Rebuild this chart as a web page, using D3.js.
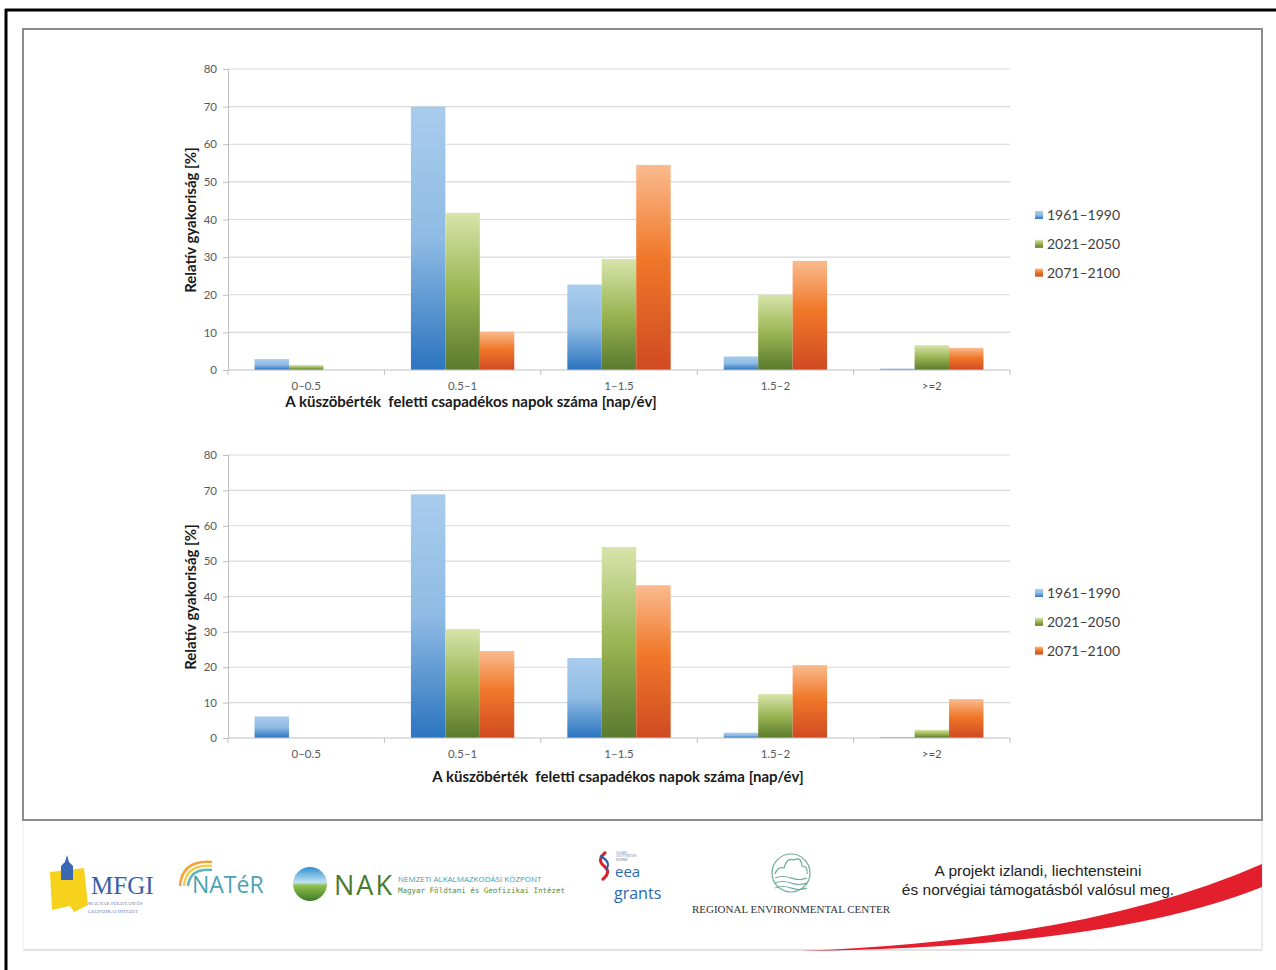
<!DOCTYPE html>
<html>
<head>
<meta charset="utf-8">
<script src="https://cdn.jsdelivr.net/npm/d3@7"></script>
<style>
  body { margin: 0; background: #fff; }
  svg { display: block; }
</style>
</head>
<body>
<div id="chart"></div>
<script>
// categories and series
const categories = ["0–0.5", "0.5–1", "1–1.5", "1.5–2", ">=2"];
const seriesNames = ["1961–1990", "2021–2050", "2071–2100"];
const yTicks = [0, 10, 20, 30, 40, 50, 60, 70, 80];

// top chart values [%], one array per period
const top1961 = [2.9, 70, 22.7, 3.6, 0.4];
const top2021 = [1.3, 41.8, 29.5, 20, 6.6];
const top2071 = [0, 10.2, 54.5, 29, 5.9];

// bottom chart values [%]
const bot1961 = [6.1, 68.9, 22.6, 1.5, 0.3];
const bot2021 = [0, 30.8, 54, 12.4, 2.3];
const bot2071 = [0, 24.6, 43.2, 20.6, 11];

const xTitle = "A küszöbérték  feletti csapadékos napok száma [nap/év]";
const yTitle = "Relatív gyakoriság [%]";

const W = 1276, H = 970;
const svg = d3.select("#chart").append("svg")
    .attr("width", W)
    .attr("height", H);

// gradients for the bars
const defs = svg.append("defs");
const gradStops = [
    [["0", "#a9cced"], ["0.5", "#8fbbe4"], ["1", "#2b74bf"]],
    [["0", "#d8e4ab"], ["0.5", "#9ab553"], ["1", "#5a7a2e"]],
    [["0", "#fabb8e"], ["0.45", "#f0782a"], ["1", "#d04a22"]]
];
gradStops.forEach((stops, i) => {
    const lg = defs.append("linearGradient")
        .attr("id", "grad" + i)
        .attr("x1", 0).attr("y1", 0).attr("x2", 0).attr("y2", 1);
    stops.forEach(s => lg.append("stop").attr("offset", s[0]).attr("stop-color", s[1]));
});
const nakGrad = defs.append("linearGradient")
    .attr("id", "nakGrad").attr("x1", 0).attr("y1", 0).attr("x2", 0).attr("y2", 1);
nakGrad.append("stop").attr("offset", "0").attr("stop-color", "#2f8fcf");
nakGrad.append("stop").attr("offset", "0.45").attr("stop-color", "#bfe3f2");
nakGrad.append("stop").attr("offset", "0.55").attr("stop-color", "#8fbf4a");
nakGrad.append("stop").attr("offset", "1").attr("stop-color", "#3f7a2a");

// page frames
svg.append("line")
    .attr("x1", 5).attr("x2", W).attr("y1", 10).attr("y2", 10)
    .attr("stroke", "#000").attr("stroke-width", 3);
svg.append("line")
    .attr("x1", 6).attr("x2", 6).attr("y1", 9).attr("y2", H)
    .attr("stroke", "#000").attr("stroke-width", 3);
svg.append("rect")
    .attr("x", 23).attr("y", 29).attr("width", 1239).attr("height", 791)
    .attr("fill", "none").attr("stroke", "#8c8c8c").attr("stroke-width", 2);

const font = "Lato, 'Noto Sans', sans-serif";

function drawChart(values, box) {
    const g = svg.append("g");
    const x = d3.scaleBand()
        .domain(categories)
        .range([box.left, box.right])
        .paddingInner(0).paddingOuter(0);
    const xs = d3.scaleBand()
        .domain(seriesNames)
        .range([0, x.bandwidth()])
        .paddingInner(0).paddingOuter(0.77);
    const y = d3.scaleLinear()
        .domain([0, 80])
        .range([box.bottom, box.top]);

    // grid lines
    g.append("g").selectAll("line")
        .data(yTicks.slice(1))
        .enter().append("line")
        .attr("x1", box.left).attr("x2", box.right)
        .attr("y1", d => y(d)).attr("y2", d => y(d))
        .attr("stroke", "#d9d9d9").attr("stroke-width", 1.2);

    // y axis
    const axisY = d3.axisLeft(y).tickValues(yTicks).tickSize(5).tickPadding(6);
    const ay = g.append("g")
        .attr("transform", `translate(${box.left},0)`)
        .call(axisY);
    ay.select(".domain").attr("stroke", "#bfbfbf");
    ay.selectAll(".tick line").attr("stroke", "#bfbfbf");
    ay.selectAll(".tick text")
        .attr("fill", "#595959").attr("font-size", 11.5).attr("font-family", font);

    // bars
    const series = seriesNames.map((name, i) => ({ name: name, idx: i, vals: values[i] }));
    g.append("g").selectAll("g")
        .data(series)
        .enter().append("g")
        .attr("fill", d => `url(#grad${d.idx})`)
        .selectAll("rect")
        .data(d => d.vals.map((v, j) => ({ s: d.name, c: categories[j], v: v })))
        .enter().append("rect")
        .filter(d => d.v > 0)
        .attr("x", d => x(d.c) + xs(d.s))
        .attr("width", xs.bandwidth())
        .attr("y", d => y(d.v))
        .attr("height", d => y(0) - y(d.v));

    // x axis
    g.append("line")
        .attr("x1", box.left).attr("x2", box.right)
        .attr("y1", y(0)).attr("y2", y(0))
        .attr("stroke", "#bfbfbf").attr("stroke-width", 1.2);
    const bounds = categories.map(c => x(c)).concat([box.right]);
    g.append("g").selectAll("line")
        .data(bounds)
        .enter().append("line")
        .attr("x1", d => d).attr("x2", d => d)
        .attr("y1", y(0)).attr("y2", y(0) + 5)
        .attr("stroke", "#bfbfbf");
    g.append("g").selectAll("text")
        .data(categories)
        .enter().append("text")
        .attr("x", d => x(d) + x.bandwidth() / 2)
        .attr("y", y(0) + 20)
        .attr("text-anchor", "middle")
        .attr("font-size", 11.5)
        .attr("font-family", font)
        .attr("fill", "#595959")
        .text(d => d);

    // titles
    g.append("text")
        .attr("x", box.xTitleX)
        .attr("y", box.xTitleY)
        .attr("text-anchor", "middle")
        .attr("font-size", 15)
        .attr("font-weight", "bold")
        .attr("font-family", font)
        .attr("fill", "#1a1a1a")
        .style("white-space", "pre")
        .text(xTitle);
    g.append("text")
        .attr("transform", `translate(196, ${box.yTitleY}) rotate(-90)`)
        .attr("text-anchor", "middle")
        .attr("font-size", 15)
        .attr("font-weight", "bold")
        .attr("font-family", font)
        .attr("fill", "#1a1a1a")
        .text(yTitle);

    // legend
    const leg = g.append("g").selectAll("g")
        .data(seriesNames)
        .enter().append("g")
        .attr("transform", (d, i) => `translate(1035, ${box.legendY + i * 28.8})`);
    leg.append("rect")
        .attr("x", 0).attr("y", -4).attr("width", 8).attr("height", 8)
        .attr("fill", (d, i) => `url(#grad${i})`);
    leg.append("text")
        .attr("x", 12).attr("y", 5)
        .attr("font-size", 14)
        .attr("font-family", font)
        .attr("fill", "#404040")
        .text(d => d);
}

drawChart([top1961, top2021, top2071], {
    left: 228, right: 1010, top: 69, bottom: 370,
    xTitleX: 471, xTitleY: 407, yTitleY: 220, legendY: 215
});
drawChart([bot1961, bot2021, bot2071], {
    left: 228, right: 1010, top: 455, bottom: 738,
    xTitleX: 618, xTitleY: 782, yTitleY: 597, legendY: 593
});

// footer panel
const foot = svg.append("g");
foot.append("line")
    .attr("x1", 23).attr("x2", 1262).attr("y1", 950).attr("y2", 950)
    .attr("stroke", "#e2e2e2").attr("stroke-width", 2);
foot.append("line")
    .attr("x1", 1262).attr("x2", 1262).attr("y1", 821).attr("y2", 950)
    .attr("stroke", "#ececec").attr("stroke-width", 2);
foot.append("line")
    .attr("x1", 23).attr("x2", 23).attr("y1", 821).attr("y2", 950)
    .attr("stroke", "#ececec").attr("stroke-width", 1);

// red swoosh
foot.append("path")
    .attr("d", "M 800 951 Q 1090 940 1262 864 L 1262 887 Q 1110 948 800 951 Z")
    .attr("fill", "#e31e2d");

// MFGI logo
foot.append("path")
    .attr("d", "M 50 872 L 84 868 L 88 905 L 74 912 L 70 906 L 52 910 Z")
    .attr("fill", "#f7d21c");
foot.append("path")
    .attr("d", "M 61 880 L 61 866 L 65 862 L 67 855 L 69 862 L 73 866 L 73 880 Z")
    .attr("fill", "#3b67b3");
foot.append("text")
    .attr("x", 91).attr("y", 894)
    .attr("font-family", "'Liberation Serif', serif").attr("font-size", 25)
    .attr("fill", "#3b5ea8").text("MFGI");
foot.append("text")
    .attr("x", 88).attr("y", 905)
    .attr("font-family", "'Liberation Serif', serif").attr("font-size", 5)
    .attr("fill", "#6d7fa8").text("MAGYAR FÖLDTANI ÉS");
foot.append("text")
    .attr("x", 88).attr("y", 913)
    .attr("font-family", "'Liberation Serif', serif").attr("font-size", 5)
    .attr("fill", "#6d7fa8").text("GEOFIZIKAI INTÉZET");

// NATéR logo
[["#f0a33a", 0], ["#f3cd4a", 4], ["#5fb3c4", 8]].forEach(a => {
    foot.append("path")
        .attr("d", `M ${180 + a[1]} ${886} Q ${182 + a[1]} ${860 + a[1]} ${212} ${862 + a[1]}`)
        .attr("fill", "none").attr("stroke", a[0]).attr("stroke-width", 2.5);
});
foot.append("text")
    .attr("x", 192).attr("y", 893)
    .attr("font-family", "'Open Sans', sans-serif").attr("font-size", 23)
    .attr("fill", "#4aa2b4").text("NATéR");

// NAK logo
foot.append("circle")
    .attr("cx", 310).attr("cy", 884).attr("r", 17)
    .attr("fill", "url(#nakGrad)");
foot.append("text")
    .attr("x", 334).attr("y", 895)
    .attr("font-family", "'Open Sans', sans-serif").attr("font-size", 27)
    .attr("letter-spacing", 2)
    .attr("fill", "#4a7a2c").text("NAK");
foot.append("text")
    .attr("x", 398).attr("y", 882)
    .attr("font-family", "'Open Sans', sans-serif").attr("font-size", 8)
    .attr("fill", "#3aa0b3").text("NEMZETI ALKALMAZKODÁSI KÖZPONT");
foot.append("text")
    .attr("x", 398).attr("y", 893)
    .attr("font-family", "'DejaVu Sans Mono', monospace").attr("font-size", 7.5)
    .attr("fill", "#5a8a3a").text("Magyar Földtani és Geofizikai Intézet");

// eea grants logo
foot.append("path")
    .attr("d", "M 606 852 Q 596 860 604 866 Q 612 872 602 880")
    .attr("fill", "none").attr("stroke", "#d8232f").attr("stroke-width", 3);
foot.append("path")
    .attr("d", "M 600 856 Q 612 862 606 870")
    .attr("fill", "none").attr("stroke", "#2a5fa8").attr("stroke-width", 2);
["ICELAND", "LIECHTENSTEIN", "NORWAY"].forEach((t, i) => {
    foot.append("text")
        .attr("x", 616).attr("y", 854 + i * 3.3)
        .attr("font-family", "'Open Sans', sans-serif").attr("font-size", 2.8)
        .attr("fill", "#6a7fa8").text(t);
});
foot.append("text")
    .attr("x", 615).attr("y", 877)
    .attr("font-family", "'Open Sans', sans-serif").attr("font-size", 15)
    .attr("fill", "#2a6bb0").text("eea");
foot.append("text")
    .attr("x", 614).attr("y", 899)
    .attr("font-family", "'Open Sans', sans-serif").attr("font-size", 16)
    .attr("fill", "#2a6bb0").text("grants");

// REC logo
foot.append("circle")
    .attr("cx", 791).attr("cy", 873).attr("r", 19)
    .attr("fill", "none").attr("stroke", "#6aa897").attr("stroke-width", 1.2);
foot.append("path")
    .attr("d", "M 775 874 Q 778 866 784 868 Q 787 857 794 860 Q 801 856 802 866 Q 808 866 807 874")
    .attr("fill", "none").attr("stroke", "#6aa897").attr("stroke-width", 1.2);
[878, 883, 888].forEach(yy => {
    foot.append("path")
        .attr("d", `M 775 ${yy} Q 783 ${yy - 3} 791 ${yy} Q 799 ${yy + 3} 807 ${yy}`)
        .attr("fill", "none").attr("stroke", "#6aa897").attr("stroke-width", 1.2);
});
foot.append("text")
    .attr("x", 791).attr("y", 913)
    .attr("text-anchor", "middle")
    .attr("font-family", "'Liberation Serif', serif").attr("font-size", 11)
    .attr("fill", "#333").text("REGIONAL ENVIRONMENTAL CENTER");

// project note
foot.append("text")
    .attr("x", 1038).attr("y", 876)
    .attr("text-anchor", "middle")
    .attr("font-family", "'Liberation Sans', Arial, sans-serif").attr("font-size", 15.5)
    .attr("fill", "#222").text("A projekt izlandi, liechtensteini");
foot.append("text")
    .attr("x", 1038).attr("y", 895)
    .attr("text-anchor", "middle")
    .attr("font-family", "'Liberation Sans', Arial, sans-serif").attr("font-size", 15.5)
    .attr("fill", "#222").text("és norvégiai támogatásból valósul meg.");
</script>
</body>
</html>
